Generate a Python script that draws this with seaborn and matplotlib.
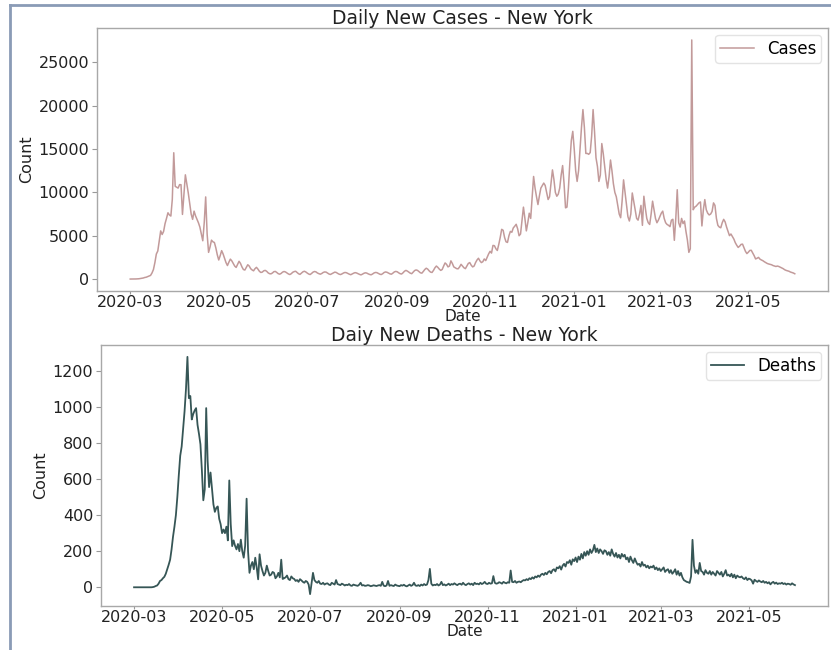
import numpy as np
import pandas as pd
import matplotlib
matplotlib.use("Agg")
import matplotlib.pyplot as plt
import matplotlib.dates as mdates
from matplotlib.lines import Line2D
from matplotlib.ticker import MultipleLocator
import seaborn as sns

start_date = "2020-03-01"

cases = [
    0, 0, 1, 9, 11, 22, 33,
    60, 80, 120, 180, 210, 280, 350,
    420, 700, 1100, 1900, 2890, 3240, 4400,
    5560, 5140, 5500, 6400, 7000, 7650, 7400,
    7270, 9200, 14580, 10700, 10600, 10500, 10900,
    10890, 7460, 9800, 12030, 11000, 9940, 8700,
    7500, 6890, 7840, 7300, 6900, 6500, 6000,
    5200, 4420, 6500, 9480, 5200, 3080, 3700,
    4490, 4300, 4220, 3600, 2800, 2200, 2700,
    3280, 2900, 2400, 1900, 1560, 1950, 2300,
    2100, 1800, 1500, 1340, 1700, 2050, 1800,
    1400, 1100, 1040, 1350, 1650, 1500, 1200,
    1050, 950, 1200, 1350, 1150, 900, 760,
    800, 950, 1000, 900, 720, 620, 600,
    700, 850, 880, 760, 620, 560, 650,
    800, 870, 820, 700, 590, 520, 620,
    780, 860, 900, 760, 610, 540, 680,
    830, 900, 820, 690, 580, 520, 650,
    800, 870, 830, 700, 620, 560, 640,
    760, 820, 800, 690, 580, 530, 620,
    720, 800, 760, 650, 560, 520, 600,
    700, 760, 730, 640, 560, 500, 590,
    680, 740, 700, 620, 540, 480, 560,
    660, 720, 690, 600, 530, 490, 580,
    700, 760, 740, 650, 560, 520, 620,
    760, 820, 780, 690, 600, 560, 680,
    820, 880, 840, 720, 620, 580, 720,
    900, 1000, 920, 800, 680, 620, 800,
    980, 1050, 1000, 860, 720, 680, 880,
    1100, 1250, 1150, 950, 800, 760, 1000,
    1300, 1500, 1350, 1150, 1000, 1100, 1500,
    1860, 1700, 1400, 1500, 2100, 1800, 1400,
    1300, 1200, 1180, 1400, 1700, 1500, 1300,
    1200, 1500, 1800, 1900, 1600, 1400, 1500,
    1900, 2200, 2400, 2100, 1900, 2000, 2320,
    2130, 2500, 2900, 3200, 3000, 3880, 3850,
    3500, 3300, 4000, 4800, 5740, 5630, 4800,
    4300, 4225, 5000, 5500, 5400, 5900, 6100,
    6320, 5800, 5000, 5200, 6800, 8300, 7000,
    5560, 6500, 7600, 7000, 9500, 11840, 10500,
    9500, 8600, 9600, 10500, 10800, 11080, 10800,
    10000, 9180, 9500, 11000, 12600, 11500, 10000,
    9560, 9800, 10500, 12000, 13100, 11000, 8220,
    8300, 10500, 13500, 16000, 17050, 15000, 12500,
    11270, 12500, 15000, 17500, 19560, 17500, 14500,
    14500, 14400, 14600, 16500, 19560, 17000, 14000,
    13000, 11270, 12000, 15640, 14500, 13000, 11500,
    10500, 11800, 13740, 12500, 11000, 10000, 9500,
    8500, 7500, 7080, 9000, 11450, 10000, 8500,
    7200, 6700, 7500, 9935, 9000, 8000, 7000,
    6800, 7500, 8500, 6200, 9560, 8200, 7000,
    6500, 6300, 7500, 8990, 8000, 7000, 6500,
    6800, 7200, 7600, 7840, 7000, 6500, 6300,
    6200, 6050, 6800, 6900, 4470, 7000, 10310,
    6500, 6000, 7000, 6400, 6700, 5500, 4500,
    3080, 3500, 27600, 8000, 8300, 8410, 8600,
    8800, 8900, 6130, 8000, 9170, 8000, 7600,
    7400, 7500, 7800, 8790, 8500, 7000, 6200,
    6000, 5920, 6500, 6890, 6600, 6000, 5500,
    5010, 5200, 4900, 4620, 4200, 3900, 3650,
    3800, 4000, 4030, 3600, 3200, 2940, 3100,
    3300, 3320, 3000, 2700, 2320, 2400, 2500,
    2300, 2200, 2120, 2000, 1900, 1800, 1740,
    1700, 1650, 1560, 1500, 1450, 1500, 1450,
    1370, 1300, 1200, 1080, 1000, 950, 900,
    810, 750, 700, 610,
]

deaths = [
    0, 0, 0, 0, 0, 0, 0,
    0, 0, 0, 0, 0, 0, 1,
    3, 7, 10, 20, 35, 40, 50,
    58, 75, 100, 125, 153, 210, 280,
    336, 400, 500, 620, 729, 780, 880,
    975, 1100, 1277, 1048, 1060, 930, 960,
    980, 993, 900, 850, 793, 650, 482,
    542, 993, 700, 555, 636, 550, 460,
    418, 440, 448, 380, 350, 300, 320,
    300, 336, 260, 592, 350, 228, 260,
    230, 210, 240, 200, 264, 200, 164,
    230, 491, 200, 80, 120, 140, 100,
    164, 110, 44, 183, 120, 90, 65,
    80, 120, 90, 65, 70, 85, 80,
    50, 60, 80, 55, 153, 46, 50,
    55, 65, 45, 40, 60, 50, 46,
    35, 40, 30, 45, 38, 30, 25,
    35, 30, 15, -38, 20, 80, 40,
    30, 25, 35, 20, 18, 25, 15,
    20, 22, 15, 12, 25, 20, 15,
    40, 18, 15, 12, 20, 16, 10,
    14, 12, 18, 10, 8, 15, 12,
    10, 8, 14, 25, 10, 12, 8,
    9, 12, 10, 6, 8, 11, 9,
    7, 10, 12, 8, 30, 9, 6,
    10, 35, 8, 12, 9, 7, 15,
    10, 8, 6, 12, 9, 14, 8,
    5, 10, 15, 8, 12, 25, 10,
    8, 12, 7, 15, 10, 18, 12,
    15, 40, 102, 20, 10, 14, 12,
    18, 10, 15, 30, 12, 16, 10,
    14, 20, 12, 18, 15, 22, 16,
    12, 18, 20, 14, 25, 16, 12,
    18, 22, 15, 20, 12, 25, 18,
    20, 16, 25, 18, 22, 30, 20,
    18, 25, 20, 22, 62, 25, 20,
    22, 28, 25, 20, 30, 25, 22,
    28, 25, 93, 30, 28, 35, 25,
    30, 32, 28, 35, 40, 38, 45,
    40, 50, 45, 55, 48, 60, 55,
    65, 58, 70, 75, 68, 80, 72,
    85, 90, 78, 95, 100, 88, 110,
    105, 117, 98, 120, 130, 115, 140,
    135, 150, 125, 155, 145, 165, 140,
    170, 153, 185, 160, 195, 175, 200,
    180, 210, 190, 205, 235, 195, 215,
    190, 210, 200, 185, 205, 200, 180,
    195, 175, 210, 185, 170, 190, 165,
    180, 160, 185, 170, 180, 155, 165,
    140, 170, 150, 135, 160, 140, 125,
    130, 115, 140, 120, 125, 110, 120,
    105, 115, 110, 120, 100, 110, 95,
    105, 90, 100, 110, 85, 95, 100,
    80, 95, 75, 85, 100, 70, 90,
    65, 80, 55, 40, 35, 30, 28,
    24, 60, 263, 120, 80, 95, 75,
    135, 90, 85, 70, 95, 80, 75,
    90, 70, 85, 75, 65, 90, 80,
    70, 85, 60, 75, 95, 65, 70,
    60, 75, 55, 70, 50, 65, 58,
    55, 60, 50, 45, 55, 40, 48,
    45, 38, 20, 42, 35, 30, 38,
    32, 28, 35, 25, 30, 22, 28,
    16, 25, 30, 20, 26, 18, 22,
    20, 25, 18, 22, 15, 20, 18,
    14, 22, 16, 12,
]

titles = ["Daily New Cases - New York", "Daiy New Deaths - New York"]

dates = pd.date_range(start_date, periods=len(cases), freq="D")
df = pd.DataFrame({"Date": dates, "Cases": cases, "Deaths": deaths})

W, H = 831, 650
fig = plt.figure(figsize=(W / 100, H / 100), dpi=100)
fig.patch.set_facecolor("white")

ax1 = fig.add_axes([97 / W, 1 - 291 / H, (828 - 97) / W, (291 - 28) / H])
ax2 = fig.add_axes([101 / W, 1 - 606 / H, (828 - 101) / W, (606 - 345) / H])

sns.lineplot(data=df, x="Date", y="Cases", ax=ax1, color="#c29a9a",
             linewidth=1.1, label="Cases")
sns.lineplot(data=df, x="Date", y="Deaths", ax=ax2, color="#365656",
             linewidth=1.3, label="Deaths")

ax1.yaxis.set_major_locator(MultipleLocator(5000))
ax2.yaxis.set_major_locator(MultipleLocator(200))

for ax, title in zip([ax1, ax2], titles):
    ax.set_title(title, fontsize=13.5, pad=0.5, color="#222222")
    ax.set_xlabel("Date", fontsize=11, labelpad=-1, color="#222222")
    ax.set_ylabel("Count", fontsize=11.5, labelpad=3, color="#222222")
    ax.xaxis.set_major_locator(mdates.MonthLocator(bymonth=[1, 3, 5, 7, 9, 11]))
    ax.xaxis.set_major_formatter(mdates.DateFormatter("%Y-%m"))
    ax.tick_params(axis="x", labelsize=11.5, length=2.5, pad=0.5,
                   color="#999999", labelcolor="#222222")
    ax.tick_params(axis="y", labelsize=11.5, length=3.5, pad=2,
                   color="#999999", labelcolor="#222222")
    for sp in ax.spines.values():
        sp.set_color("#a8a8a8")
        sp.set_linewidth(1.0)
    leg = ax.legend(loc="upper right", fontsize=12, frameon=True,
                    borderpad=0.3, borderaxespad=0.4, handlelength=2.0)
    leg.get_frame().set_edgecolor("#dddddd")

# screenshot frame
fig.add_artist(Line2D([10 / W, 10 / W], [0, 1 - 5 / H], transform=fig.transFigure,
                      color="#8a9bb6", linewidth=2))
fig.add_artist(Line2D([10 / W, 1], [1 - 5 / H, 1 - 5 / H], transform=fig.transFigure,
                      color="#8a9bb6", linewidth=2))

fig.savefig("out.png", dpi=100)
